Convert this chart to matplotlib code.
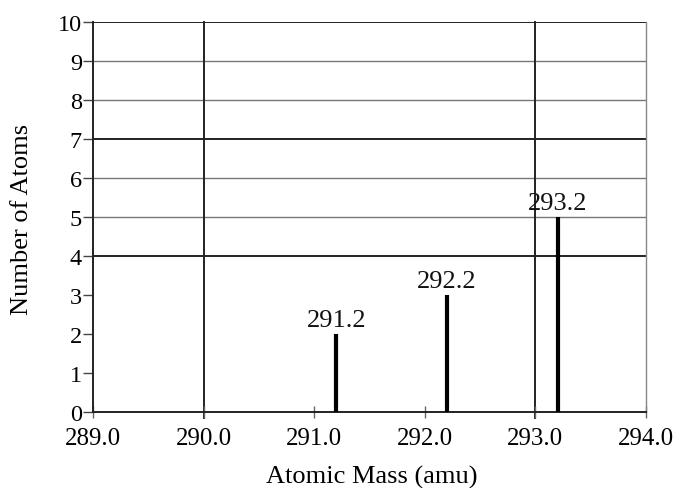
import matplotlib
matplotlib.use("Agg")
import matplotlib.pyplot as plt

# Isotope peaks
masses = [291.2, 292.2, 293.2]
counts = [2, 3, 5]
peak_labels = ["291.2", "292.2", "293.2"]

x_ticks = [289.0, 290.0, 291.0, 292.0, 293.0, 294.0]
y_ticks = list(range(0, 11))

plt.rcParams['font.family'] = ['Liberation Serif', 'DejaVu Serif']

fig = plt.figure(figsize=(6.8, 4.89), dpi=100)
ax = fig.add_axes([0.137, 0.155, 0.813, 0.798])
ax.set_xlim(289.0, 294.0)
ax.set_ylim(0, 10)

# Horizontal grid (upper part of the plot)
for y in range(4, 11):
    dark = y in (4, 7, 10)
    ax.axhline(y, color='#222222' if dark else '#777777',
               lw=1.4 if dark else 1.0, zorder=1)
# Vertical grid
for x in (290.0, 293.0):
    ax.plot([x, x], [-0.15, 10], color='#222222', lw=1.4, zorder=1,
            clip_on=False)

# Peaks
ax.vlines(masses, 0, counts, color='black', lw=3, zorder=3)
for m, c, lab in zip(masses, counts, peak_labels):
    ax.text(m, c + 0.08, lab, ha='center', va='bottom', fontsize=19,
            color='#111111', zorder=4)

ax.spines['top'].set_visible(False)
ax.spines['left'].set_color('#222222')
ax.spines['left'].set_linewidth(1.4)
ax.spines['bottom'].set_color('#222222')
ax.spines['bottom'].set_linewidth(1.4)
ax.spines['right'].set_color('#888888')
ax.spines['right'].set_linewidth(1.0)

ax.set_xticks(x_ticks)
ax.set_xticklabels([f"{v:.1f}" for v in x_ticks])
ax.set_yticks(y_ticks)
ax.tick_params(axis='y', direction='out', length=7, width=1.0,
               color='#444444', labelsize=17.5, pad=1)
ax.tick_params(axis='x', direction='inout', length=8, width=1.0,
               color='#666666', labelsize=18, pad=7)

ax.set_xlabel("Atomic Mass (amu)", fontsize=19, va='center')
ax.set_ylabel("Number of Atoms", fontsize=19, va='center', ha='center')
ax.xaxis.set_label_coords(0.504, -0.165)
ax.yaxis.set_label_coords(-0.128, 0.497)

fig.savefig("out.png", dpi=100)
